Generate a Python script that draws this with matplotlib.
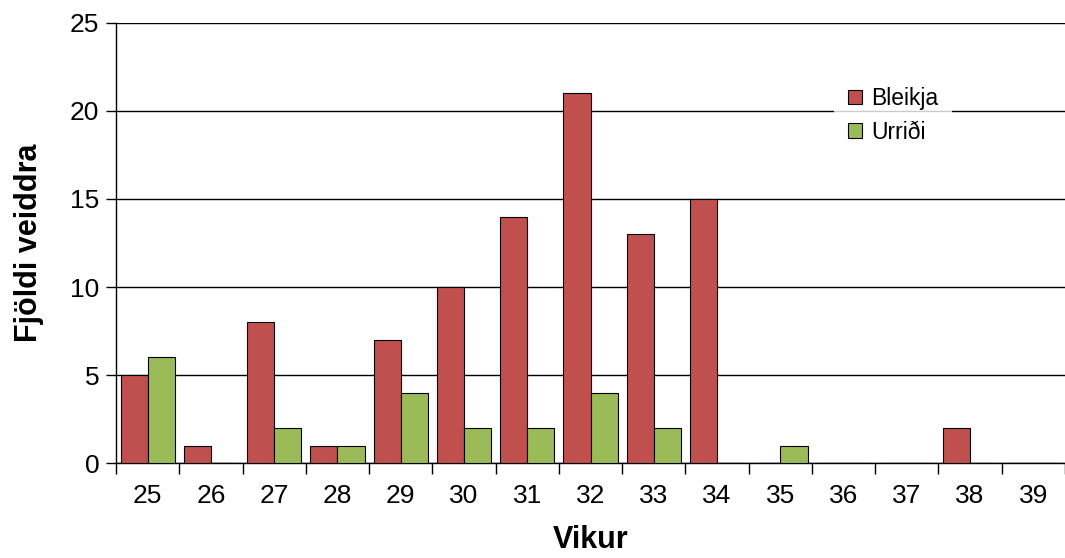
import numpy as np
import matplotlib as mpl
mpl.use('agg')
import matplotlib.pyplot as plt

plt.rcParams['font.family'] = ['Liberation Sans', 'DejaVu Sans']

vikur = ['25', '26', '27', '28', '29', '30', '31', '32', '33', '34', '35', '36', '37', '38', '39']
bleikja = [5, 1, 8, 1, 7, 10, 14, 21, 13, 15, 0, 0, 0, 2, 0]
urridi = [6, 0, 2, 1, 4, 2, 2, 4, 2, 0, 1, 0, 0, 0, 0]

fig = plt.figure(figsize=(10.65, 5.58), dpi=100)
ax = fig.add_axes([0.109, 0.170, 0.891, 0.789])

x = np.arange(len(vikur))
w = 0.43
ax.bar(x - w/2, bleikja, w, color='#C0504D', edgecolor='black', linewidth=0.8, label='Bleikja', zorder=3)
ax.bar(x + w/2, urridi, w, color='#9BBB59', edgecolor='black', linewidth=0.8, label='Urriði', zorder=3)

ax.set_xlim(-0.5, len(vikur) - 0.5)
ax.set_ylim(0, 25)
ax.set_yticks([0, 5, 10, 15, 20, 25])
ax.yaxis.grid(True, color='black', linewidth=1.0, zorder=0)
ax.set_xticks(x)
ax.set_xticklabels(vikur)
ax.set_xticks(np.arange(-0.5, len(vikur)), minor=True)
ax.tick_params(axis='x', which='major', length=0, pad=15, labelsize=19)
ax.tick_params(axis='x', which='minor', length=8, width=1, color='black')
ax.tick_params(axis='y', length=7, width=1, labelsize=19, pad=5)

for s in ['top', 'right']:
    ax.spines[s].set_visible(False)
ax.spines['left'].set_linewidth(1)
ax.spines['bottom'].set_linewidth(1)

ax.set_xlabel('Vikur', fontsize=22, fontweight='bold', labelpad=12)
ax.set_ylabel('Fjöldi veiddra', fontsize=22, fontweight='bold', labelpad=19)

leg = ax.legend(loc='upper left', bbox_to_anchor=(0.745, 0.911), frameon=True, fontsize=16.5,
                handlelength=0.6, handleheight=0.6, handletextpad=0.4, borderpad=0.6,
                labelspacing=0.45, fancybox=False)
leg.get_frame().set_edgecolor('white')
leg.get_frame().set_linewidth(0)
leg.set_zorder(5)

fig.savefig('out.png', dpi=100)
